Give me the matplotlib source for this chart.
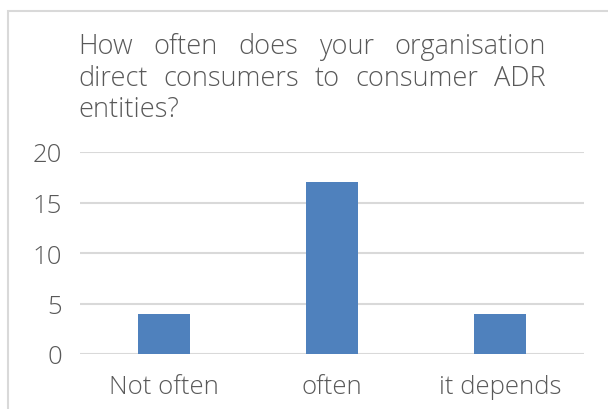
import matplotlib
matplotlib.use("Agg")
import matplotlib.pyplot as plt
from matplotlib.patches import Rectangle

categories = ["Not often", "often", "it depends"]
values = [4, 17, 4]
yticks = [0, 5, 10, 15, 20]
title_lines = ["How often does your organisation",
               "direct consumers to consumer ADR",
               "entities?"]

W, H = 608, 410
fig = plt.figure(figsize=(W / 100, H / 100), dpi=100)
fig.patch.set_facecolor("white")
FAM = "Open Sans"
WT = 300
TXT = "#595959"

fig.patches.append(Rectangle((8 / W, -0.1), 1.2, 1.1 - 12 / H,
                             transform=fig.transFigure, fill=False,
                             edgecolor="#D9D9D9", linewidth=1.5))

ax = fig.add_axes([80 / W, 1 - 355 / H, 504 / W, (355 - 153) / H])
x = list(range(len(categories)))
ax.bar(x, values, width=0.315, color="#4F81BD", zorder=3)
ax.set_xlim(-0.5, len(categories) - 0.5)
ax.set_ylim(0, 20)
ax.set_yticks(yticks)
ax.set_xticks(x)
ax.set_xticklabels(categories)
for s in ax.spines.values():
    s.set_visible(False)
ax.grid(axis="y", color="#D9D9D9", linewidth=1.5, zorder=0)
ax.tick_params(length=0, labelsize=18.5, labelcolor=TXT)
ax.tick_params(axis="y", pad=13)
ax.tick_params(axis="x", pad=14.5)
for lab in ax.get_xticklabels() + ax.get_yticklabels():
    lab.set_fontfamily(FAM)
    lab.set_fontweight(WT)

fig.canvas.draw()
renderer = fig.canvas.get_renderer()
left_px, right_px = 78, 546
ys = [47, 79, 110]
for i, line in enumerate(title_lines):
    words = line.split()
    yf = 1 - ys[i] / H
    kw = dict(fontsize=19.5, color=TXT, family=FAM, fontweight=WT,
              va="center", ha="left", transform=fig.transFigure)
    if i == len(title_lines) - 1 or len(words) == 1:
        fig.text(left_px / W, yf, line, **kw)
        continue
    texts = [fig.text(0, yf, w, **kw) for w in words]
    widths = [t.get_window_extent(renderer).width for t in texts]
    gap = (right_px - left_px - sum(widths)) / (len(words) - 1)
    pos = left_px
    for t, w in zip(texts, widths):
        t.set_x(pos / W)
        pos += w + gap

fig.savefig("out.png", dpi=100, facecolor="white")
